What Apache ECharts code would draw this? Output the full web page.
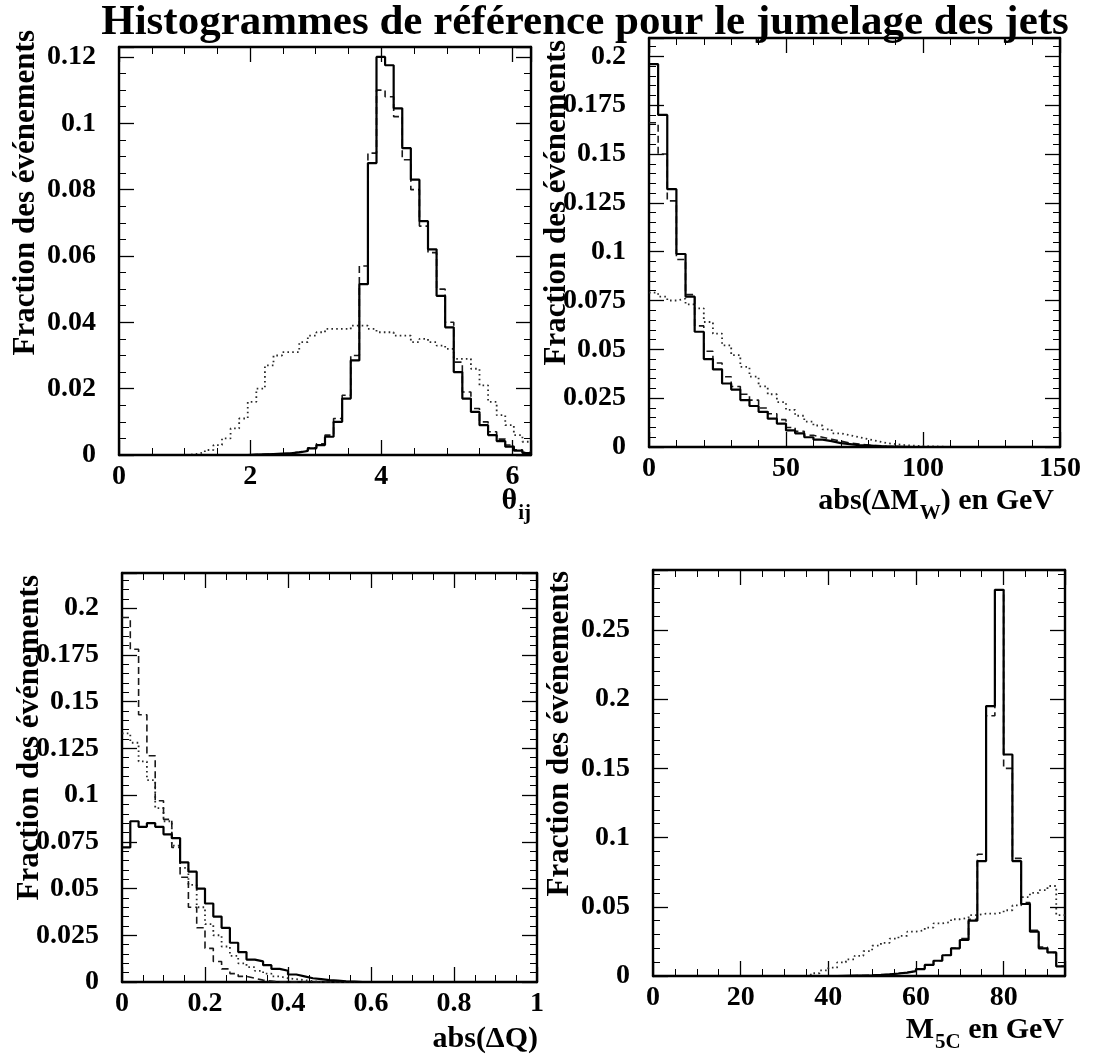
<!DOCTYPE html>
<html>
<head>
<meta charset="utf-8">
<script src="https://cdn.jsdelivr.net/npm/echarts@6/dist/echarts.min.js"></script>
<style>
html,body{margin:0;padding:0;background:#fff;}
#chart{width:1096px;height:1056px;}
</style>
</head>
<body>
<div id="chart"></div>
<script>
// ---------------- DATA ----------------
const mainTitle = 'Histogrammes de référence pour le jumelage des jets';
const yTitle = 'Fraction des événements';

// Panel 1 : theta_ij, 48 bins over [0, 2pi]
const thetaRange = [0, 2 * Math.PI];
const thetaSolid = [0,0,0,0,0,0,0,0,0,0,0,0,0,0,0,
  0.0001,0.0002,0.0003,0.0004,0.0005,0.0008,0.0012,0.002,0.003,0.0055,0.010,0.017,0.0285,0.0515,0.088,
  0.120,0.1175,0.1045,0.0925,0.083,0.0705,0.062,0.048,0.0385,0.025,0.017,0.013,0.009,0.006,0.0042,0.0025,0.0013,0.0006];
const thetaDashed = [0,0,0,0,0,0,0,0,0,0,0,0,0,0,0,
  0.0001,0.0002,0.0003,0.0004,0.0006,0.0009,0.0014,0.0022,0.0034,0.006,0.011,0.018,0.030,0.057,0.091,
  0.110,0.108,0.102,0.089,0.080,0.069,0.061,0.050,0.040,0.028,0.019,0.014,0.010,0.007,0.0048,0.003,0.0016,0.0008];
const thetaDotted = [0,0,0,0,0,0,0,0,
  0.0003,0.0008,0.0015,0.003,0.005,0.008,0.011,0.016,0.020,0.027,0.030,0.031,0.031,0.034,0.036,0.037,
  0.038,0.038,0.038,0.039,0.039,0.038,0.037,0.037,0.036,0.036,0.034,0.035,0.034,0.033,0.032,0.029,
  0.029,0.026,0.021,0.016,0.012,0.009,0.006,0.004];
const thetaTicks = [0, 2, 4, 6];

// Panel 2 : abs(dM_W), 45 bins over [0, 150]
const mwRange = [0, 150];
const mwSolid = [0.196,0.170,0.132,0.0988,0.077,0.059,0.045,0.0397,0.0325,0.0294,
  0.024,0.021,0.018,0.0145,0.012,0.0085,0.007,0.005,0.0038,0.003,
  0.002,0.0015,0.001,0.0008,0.0005,0.0003,0.0002,0.0001,0,0,
  0,0,0,0,0,0,0,0,0,0,0,0,0,0,0];
const mwDashed = [0.166,0.150,0.126,0.096,0.078,0.062,0.049,0.043,0.036,0.031,
  0.027,0.024,0.020,0.017,0.014,0.010,0.008,0.006,0.005,0.004,
  0.003,0.002,0.0015,0.001,0.0007,0.0004,0.0002,0,0,0,
  0,0,0,0,0,0,0,0,0,0,0,0,0,0,0];
const mwDotted = [0.079,0.077,0.075,0.076,0.073,0.071,0.064,0.058,0.052,0.047,
  0.041,0.036,0.031,0.027,0.023,0.019,0.016,0.013,0.011,0.009,
  0.007,0.006,0.005,0.004,0.003,0.002,0.0015,0.001,0.0007,0.0005,
  0.0003,0.0002,0,0,0,0,0,0,0,0,0,0,0,0,0];
const mwTicks = [0, 50, 100, 150];

// Panel 3 : abs(dQ), 50 bins over [0, 1]
const dqRange = [0, 1];
const dqSolid = [0.072,0.086,0.083,0.085,0.083,0.079,0.077,0.064,0.059,0.050,
  0.042,0.035,0.029,0.021,0.016,0.012,0.011,0.009,0.007,0.006,
  0.004,0.003,0.002,0.0015,0.001,0.0007,0.0004,0.0002,0,0,
  0,0,0,0,0,0,0,0,0,0,0,0,0,0,0,0,0,0,0,0];
const dqDashed = [0.195,0.178,0.143,0.121,0.097,0.087,0.072,0.056,0.040,0.029,
  0.018,0.011,0.007,0.0045,0.003,0.002,0.001,0.0005,0,0,
  0,0,0,0,0,0,0,0,0,0,0,0,0,0,0,0,0,0,0,0,0,0,0,0,0,0,0,0,0,0];
const dqDotted = [0.133,0.128,0.118,0.108,0.093,0.086,0.073,0.061,0.052,0.040,
  0.031,0.025,0.019,0.014,0.010,0.008,0.006,0.0045,0.003,0.002,
  0.0015,0.001,0.0005,0,0,0,0,0,0,0,
  0,0,0,0,0,0,0,0,0,0,0,0,0,0,0,0,0,0,0,0];
const dqTicks = [0, 0.2, 0.4, 0.6, 0.8, 1];

// Panel 4 : M_5C, 47 bins over [0, 94]
const m5cRange = [0, 94];
const m5cSolid = [0,0,0,0,0,0,0,0,0,0,0,0,0,0,0,0,0,0,0,0,0,
  0.0001,0.0002,0.0003,0.0005,0.0008,0.0012,0.0018,0.0025,0.0035,0.005,
  0.008,0.011,0.015,0.020,0.026,0.040,0.083,0.195,0.279,0.160,
  0.083,0.052,0.032,0.020,0.017,0.007];
const m5cDashed = [0,0,0,0,0,0,0,0,0,0,0,0,0,0,0,0,0,0,0,0,0,
  0.0001,0.0002,0.0003,0.0005,0.0008,0.0012,0.0018,0.0025,0.0035,0.005,
  0.008,0.011,0.015,0.020,0.027,0.041,0.088,0.188,0.279,0.150,
  0.085,0.053,0.033,0.021,0.017,0.007];
const m5cDotted = [0,0,0,0,0,0,0,0,0,0,0,0,0,0,0,0,0,0,
  0.002,0.004,0.006,0.0098,0.012,0.0146,0.018,0.022,0.024,0.027,0.029,0.032,
  0.033,0.035,0.038,0.039,0.041,0.042,0.044,0.045,0.045,0.046,
  0.0475,0.051,0.057,0.060,0.062,0.065,0.044];
const m5cTicks = [0, 20, 40, 60, 80];

// ---------------- LAYOUT / STYLE ----------------
const FONT = 'Liberation Serif';
const panels = [
  { grid:{left:119, top:47, width:412, height:408}, range:thetaRange, ticks:thetaTicks, xInt:2, xMinor:4,
    yMax:0.123, yInt:0.02, yMinor:4, data:[thetaDotted, thetaDashed, thetaSolid],
    yTitlePos:[26, 30], xTitle:{text:'{n|θ}{s|ij}', x:531, y:486} },
  { grid:{left:649, top:38, width:411, height:409}, range:mwRange, ticks:mwTicks, xInt:50, xMinor:5,
    yMax:0.2094, yInt:0.025, yMinor:5, data:[mwDotted, mwDashed, mwSolid],
    yTitlePos:[557, 40], xTitle:{text:'{n|abs(ΔM}{s|W}{n|) en GeV}', x:1054, y:486} },
  { grid:{left:122, top:573, width:415, height:409}, range:dqRange, ticks:dqTicks, xInt:0.2, xMinor:4,
    yMax:0.2188, yInt:0.025, yMinor:5, data:[dqDotted, dqDashed, dqSolid],
    yTitlePos:[30, 575], xTitle:{text:'{n|abs(ΔQ)}', x:538, y:1024} },
  { grid:{left:653, top:570, width:412, height:406}, range:m5cRange, ticks:m5cTicks, xInt:20, xMinor:4,
    yMax:0.2933, yInt:0.05, yMinor:5, data:[m5cDotted, m5cDashed, m5cSolid],
    yTitlePos:[560, 571], xTitle:{text:'{n|M}{s|5C}{n| en GeV}', x:1064, y:1015} }
];

const lineStyles = [
  {color:'#2a2a2a', width:1.8, type:[1.6, 3.2]},   // dotted
  {color:'#1a1a1a', width:1.6, type:[7, 4]},       // dashed
  {color:'#000000', width:2.2, type:'solid'}       // solid
];

function histPoints(values, range) {
  const w = (range[1] - range[0]) / values.length;
  const pts = values.map((v, i) => [range[0] + i * w, v]);
  pts.push([range[1], values[values.length - 1]]);
  return pts;
}
function onGrid(v, step) {
  const r = v / step;
  return Math.abs(r - Math.round(r)) < 1e-6;
}
function fmt(v) { return String(+v.toFixed(4)); }

const axisLine = {show:true, onZero:false, lineStyle:{color:'#000', width:2.4}};
const tickStyle = {inside:true, length:15, lineStyle:{color:'#000', width:1.3}};
const labelFont = {fontFamily:FONT, fontWeight:'bold', fontSize:28, color:'#000'};

const grids = [], xAxes = [], yAxes = [], series = [], graphics = [];

panels.forEach((p, i) => {
  grids.push(Object.assign({containLabel:false, outerBoundsMode:'none', show:false}, p.grid));
  const xBase = {type:'value', gridIndex:i, min:p.range[0], max:p.range[1], interval:p.xInt,
    axisLine, axisTick:tickStyle, splitLine:{show:false},
    minorTick:{show:true, splitNumber:p.xMinor, length:7, lineStyle:{color:'#000', width:1}}};
  xAxes.push(Object.assign({}, xBase, {position:'bottom',
    axisLabel:Object.assign({margin:8, formatter:v => onGrid(v, p.xInt) ? fmt(v) : ''}, labelFont)}));
  xAxes.push(Object.assign({}, xBase, {position:'top', axisLabel:{show:false}}));
  const yBase = {type:'value', gridIndex:i, min:0, max:p.yMax, interval:p.yInt,
    axisLine, axisTick:tickStyle, splitLine:{show:false},
    minorTick:{show:true, splitNumber:p.yMinor, length:7, lineStyle:{color:'#000', width:1}}};
  yAxes.push(Object.assign({}, yBase, {position:'left',
    axisLabel:Object.assign({margin:23, formatter:v => onGrid(v, p.yInt) ? fmt(v) : ''}, labelFont)}));
  yAxes.push(Object.assign({}, yBase, {position:'right', axisLabel:{show:false}}));

  p.data.forEach((vals, k) => {
    series.push({type:'line', xAxisIndex:2*i, yAxisIndex:2*i, step:'end', showSymbol:false,
      symbol:'none', silent:true, z:2+k, lineStyle:lineStyles[k], data:histPoints(vals, p.range)});
  });

  graphics.push({type:'text', x:p.yTitlePos[0], y:p.yTitlePos[1], rotation:Math.PI/2,
    style:{text:yTitle, fontFamily:FONT, fontWeight:'bold', fontSize:31, fill:'#000',
      align:'right', verticalAlign:'middle'}});
  graphics.push({type:'text', x:p.xTitle.x, y:p.xTitle.y,
    style:{text:p.xTitle.text, align:'right', verticalAlign:'top',
      rich:{
        n:{fontFamily:FONT, fontWeight:'bold', fontSize:30, verticalAlign:'top', fill:'#000'},
        s:{fontFamily:FONT, fontWeight:'bold', fontSize:21, verticalAlign:'top', padding:[17,0,0,1], fill:'#000'}
      }}});
});

graphics.push({type:'text', x:585, y:1, style:{text:mainTitle, fontFamily:FONT, fontWeight:'bold',
  fontSize:43, fill:'#000', align:'center', verticalAlign:'top'}});

const chart = echarts.init(document.getElementById('chart'), null, {renderer:'canvas'});
chart.setOption({
  animation:false,
  backgroundColor:'#fff',
  grid:grids, xAxis:xAxes, yAxis:yAxes, series, graphic:graphics
});
</script>
</body>
</html>
